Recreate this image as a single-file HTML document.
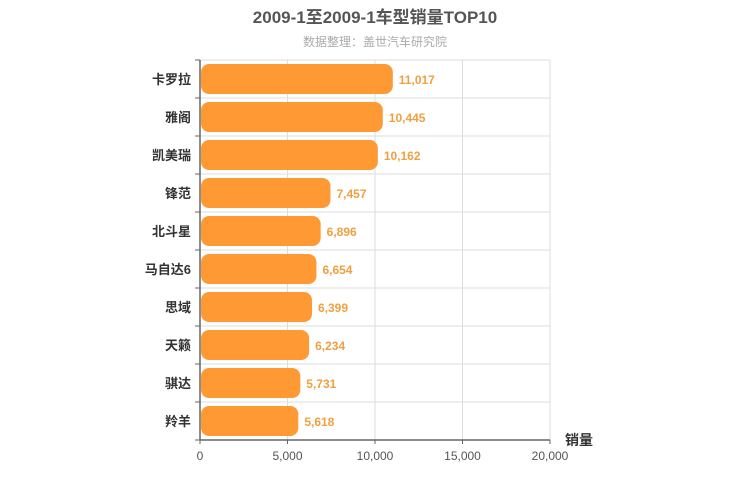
<!DOCTYPE html>
<html><head><meta charset="utf-8"><style>
body{margin:0;background:#fff;}
svg{display:block;font-family:"Liberation Sans","Noto Sans CJK SC",sans-serif;}
</style></head><body>
<svg id="c" width="750" height="500">
<text x="375" y="23" text-anchor="middle" font-size="17" font-weight="bold" fill="#555">2009-1至2009-1车型销量TOP10</text>
<text x="375" y="46" text-anchor="middle" font-size="12" fill="#aaa">数据整理：盖世汽车研究院</text>
<g id="grid"></g><g id="bars"></g><g id="axes"></g>
</svg>
<script>
const categories=["卡罗拉","雅阁","凯美瑞","锋范","北斗星","马自达6","思域","天籁","骐达","羚羊"];
const values=[11017,10445,10162,7457,6896,6654,6399,6234,5731,5618];
const ticks=[0,5000,10000,15000,20000];
const X0=200,X1=550,Y0=60,RH=38,XMAX=20000;
const x=v=>X0+(v/XMAX)*(X1-X0);
const y=i=>Y0+i*RH;
const NS="http://www.w3.org/2000/svg";
function mk(t,a,p){const e=document.createElementNS(NS,t);for(const k in a)e.setAttribute(k,a[k]);p.appendChild(e);return e;}
const grid=document.getElementById('grid'),bars=document.getElementById('bars'),axes=document.getElementById('axes');
const fmt=v=>v.toLocaleString('en-US');
for(let i=0;i<=categories.length;i++){
  const l=mk('line',{x1:X0,x2:X1,y1:y(i),y2:y(i),stroke:'#ddd'},grid);
  
  
}
ticks.forEach(t=>{
  if(t===0)return;
  const l=mk('line',{x1:x(t),x2:x(t),y1:Y0,y2:y(categories.length),stroke:'#ddd'},grid);
  
  
});
categories.forEach((c,i)=>{
  const r=mk('rect',{x:X0+1,y:y(i)+4,width:x(values[i])-X0-1,height:RH-8,rx:8,fill:'#ff9933'},bars);
  
  
  const v=mk('text',{x:x(values[i])+6,y:y(i)+RH/2+5,'font-size':12,'font-weight':'bold',fill:'#f0a040'},bars);
  v.textContent=fmt(values[i]);
  
  
  const l=mk('text',{x:X0-9,y:y(i)+RH/2+5,'text-anchor':'end','font-size':13,'font-weight':'bold',fill:'#333'},axes);
  l.textContent=c;
  
  
  const tk=mk('line',{x1:X0-5,x2:X0,y1:y(i),y2:y(i),stroke:'#666'},axes);
  
  
});
const bt=mk('line',{x1:X0-5,x2:X0,y1:y(categories.length),y2:y(categories.length),stroke:'#666'},axes);


const ya=mk('line',{x1:X0,x2:X0,y1:Y0,y2:y(categories.length),stroke:'#666','stroke-width':1.5},axes);


const xa=mk('line',{x1:X0,x2:X1,y1:y(categories.length),y2:y(categories.length),stroke:'#666','stroke-width':1.5},axes);


ticks.forEach(t=>{
  const tk=mk('line',{x1:x(t),x2:x(t),y1:y(categories.length),y2:y(categories.length)+4,stroke:'#666'},axes);
  
  
  const tl=mk('text',{x:x(t),y:y(categories.length)+20,'text-anchor':'middle','font-size':12,fill:'#555'},axes);
  tl.textContent=fmt(t);
  
  
});
const at=mk('text',{x:565,y:y(categories.length)+5,'font-size':14,'font-weight':'bold',fill:'#333'},axes);
at.textContent='销量';


</script>
</body></html>
